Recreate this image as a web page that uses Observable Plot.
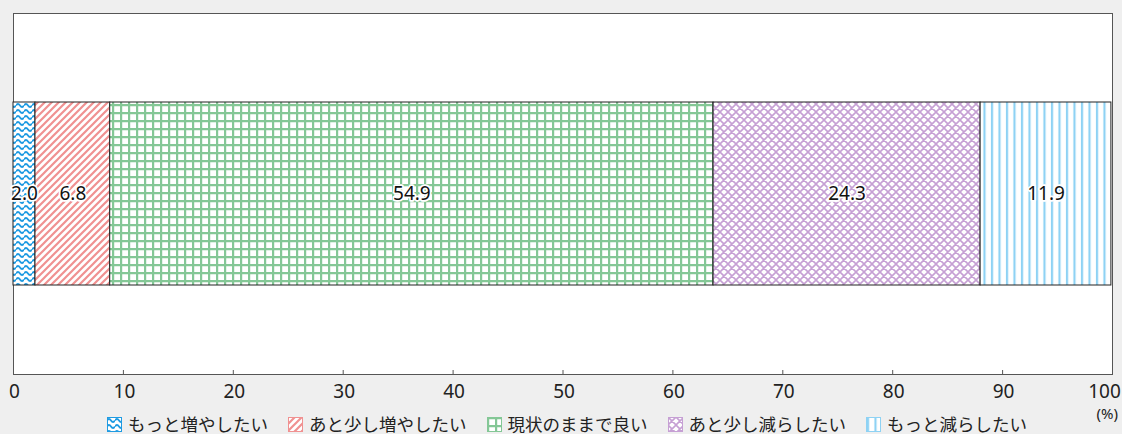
<!DOCTYPE html>
<html lang="ja">
<head>
<meta charset="utf-8">
<script src="https://cdn.jsdelivr.net/npm/d3@7"></script>
<script src="https://cdn.jsdelivr.net/npm/@observablehq/plot@0.6"></script>
<style>
  html, body { margin: 0; padding: 0; background: #efefef; }
  body { width: 1122px; height: 434px; overflow: hidden; font-family: "Noto Sans CJK JP", "Noto Sans", sans-serif; }
  #chart svg { overflow: visible; }
  .footer { position: relative; height: 30px; }
  .unit { position: absolute; top: 1px; right: 4px; font-family: "Noto Sans", sans-serif; font-size: 15px; line-height: 16px; color: #222; }
  .legend { position: absolute; top: 10px; left: 6px; width: 1122px; display: flex; justify-content: center; gap: 20px; height: 20px; line-height: 20px; font-size: 17.5px; color: #222; }
  .legend .item { display: flex; align-items: center; gap: 6px; white-space: nowrap; }
  .legend svg { display: block; }
</style>
</head>
<body>
<svg width="0" height="0" style="position:absolute">
  <defs>
    <pattern id="pat-wave" patternUnits="userSpaceOnUse" width="8" height="6">
      <rect width="8" height="6" fill="white"/>
      <path d="M0 3.5 Q2 0.5 4 3.5 T8 3.5" fill="none" stroke="#1f9be2" stroke-width="1.8"/>
    </pattern>
    <pattern id="pat-diag" patternUnits="userSpaceOnUse" width="7" height="7">
      <rect width="7" height="7" fill="white"/>
      <path d="M-1 8 L8 -1 M-1 1 L1 -1 M6 8 L8 6" stroke="#f09191" stroke-width="2.2"/>
    </pattern>
    <pattern id="pat-grid" patternUnits="userSpaceOnUse" width="8" height="8">
      <rect width="8" height="8" fill="white"/>
      <path d="M1 0 V8 M0 1 H8" stroke="#84c796" stroke-width="2.4"/>
    </pattern>
    <pattern id="pat-cross" patternUnits="userSpaceOnUse" width="8" height="8">
      <rect width="8" height="8" fill="white"/>
      <path d="M0 0 L8 8 M8 0 L0 8 M-1 7 L1 9 M7 -1 L9 1 M-1 1 L1 -1 M7 9 L9 7" stroke="#c6a0d4" stroke-width="1.6"/>
    </pattern>
    <pattern id="pat-vert" patternUnits="userSpaceOnUse" width="7.5" height="8">
      <rect width="7.5" height="8" fill="white"/>
      <path d="M2 0 V8" stroke="#8ed2f4" stroke-width="2.2"/>
    </pattern>
  </defs>
</svg>
<div id="chart"></div>
<div class="footer">
  <div class="unit">(%)</div>
  <div class="legend" id="legend"></div>
</div>
<script>
// Answer categories, left to right
const categories = ["もっと増やしたい", "あと少し増やしたい", "現状のままで良い", "あと少し減らしたい", "もっと減らしたい"];
// Share of respondents (%)
const values = [2.0, 6.8, 54.9, 24.3, 11.9];
// Axis ticks (%)
const xTicks = [0, 10, 20, 30, 40, 50, 60, 70, 80, 90, 100];
// Fill pattern for each category
const patterns = ["url(#pat-wave)", "url(#pat-diag)", "url(#pat-grid)", "url(#pat-cross)", "url(#pat-vert)"];
const swatchBorders = ["#1f9be2", "#f09191", "#84c796", "#c6a0d4", "#8ed2f4"];

const rows = categories.map((c, i) => ({category: c, value: values[i], row: "all"}));

const font = "'Noto Sans', sans-serif";

const chart = Plot.plot({
  width: 1122,
  height: 404,
  marginTop: 13,
  marginLeft: 13,
  marginRight: 10,
  marginBottom: 30,
  style: {background: "#efefef", fontFamily: font, color: "#222"},
  x: {domain: [0, 100], ticks: xTicks},
  y: {domain: ["all"], padding: 0.327, axis: null},
  color: {domain: categories, range: patterns},
  marks: [
    Plot.frame({fill: "white", stroke: "#555"}),
    Plot.barX(rows, Plot.stackX({x: "value", y: "row", fill: "category", order: categories, stroke: "#222", strokeWidth: 1})),
    Plot.text(rows, Plot.stackX({x: "value", y: "row", z: "category", order: categories, text: d => d.value.toFixed(1), fill: "#111", stroke: "white", strokeWidth: 3.5, fontSize: 19, fontFamily: font})),
    // short tick marks pointing up into the plot
    Plot.axisX({ticks: xTicks, tickSize: -4, label: null, stroke: "#555", text: null}),
    // tick labels below the frame; the last one is nudged inside the page edge
    Plot.text(xTicks.slice(0, -1), {x: d => d, frameAnchor: "bottom", lineAnchor: "middle", dy: 17, dx: 1, text: d => String(d), fontSize: "19px", fontFamily: font, fill: "#222"}),
    Plot.text(xTicks.slice(-1), {x: d => d, frameAnchor: "bottom", lineAnchor: "middle", dy: 17, dx: -8, text: d => String(d), fontSize: "19px", fontFamily: font, fill: "#222"})
  ]
});
document.getElementById("chart").append(chart);

// Legend below the chart, one patterned swatch per category
const legend = d3.select("#legend");
categories.forEach((c, i) => {
  const item = legend.append("div").attr("class", "item");
  const sw = item.append("svg").attr("width", 15).attr("height", 15);
  sw.append("rect").attr("x", 0.5).attr("y", 0.5).attr("width", 14).attr("height", 14)
    .attr("fill", patterns[i]).attr("stroke", swatchBorders[i]).attr("stroke-width", 1);
  item.append("span").text(c);
});
</script>
</body>
</html>
